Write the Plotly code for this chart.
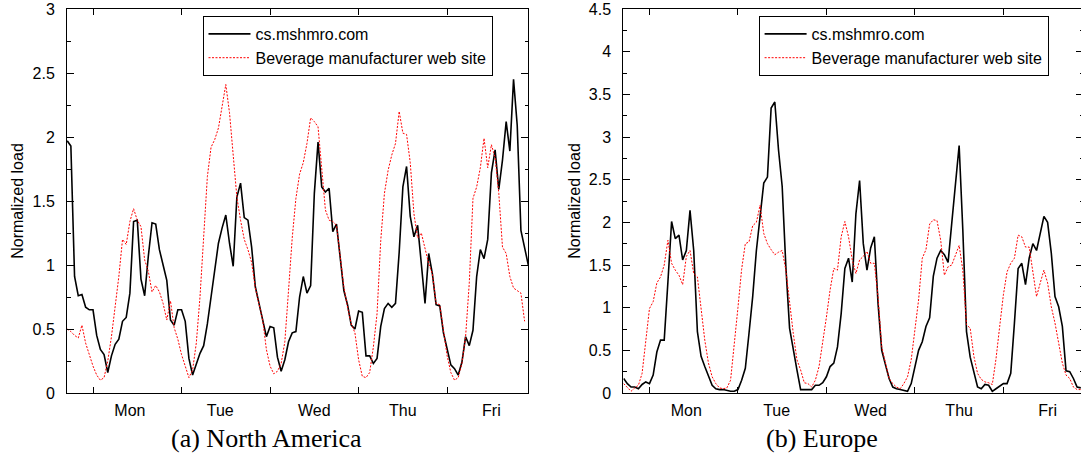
import plotly.graph_objects as go

# sample times in hours, 0 = start of Monday
hours_na = list(range(-7, 119))
hours_eu = list(range(-7, 118))
day_bounds = [0, 24, 48, 72, 96]
day_label_pos = [10, 34.5, 60, 84, 108]
day_labels = ["Mon", "Tue", "Wed", "Thu", "Fri"]

# (a) North America
na_mshmro = [
    1.97, 1.93, 0.91, 0.76, 0.77, 0.67, 0.65,
    0.65, 0.45, 0.34, 0.30, 0.16, 0.29, 0.38, 0.42, 0.56, 0.59, 0.78, 1.34,
    1.35, 0.89, 0.76, 1.07, 1.33, 1.32, 1.12, 1.00, 0.88, 0.57, 0.53, 0.65,
    0.65, 0.56, 0.27, 0.14, 0.23, 0.31, 0.37, 0.54, 0.75, 0.96, 1.17, 1.29,
    1.39, 1.17, 0.99, 1.53, 1.64, 1.37, 1.35, 1.14, 0.83, 0.70, 0.57, 0.44,
    0.52, 0.51, 0.28, 0.17, 0.26, 0.40, 0.47, 0.48, 0.75, 0.91, 0.78, 0.84,
    1.56, 1.96, 1.61, 1.57, 1.60, 1.26, 1.32, 1.04, 0.80, 0.69, 0.53, 0.50,
    0.64, 0.63, 0.29, 0.29, 0.23, 0.27, 0.52, 0.66, 0.70, 0.67, 0.70, 1.10,
    1.61, 1.77, 1.38, 1.22, 1.31, 1.01, 0.70, 1.09, 0.93, 0.69, 0.68, 0.47,
    0.34, 0.22, 0.19, 0.14, 0.24, 0.44, 0.37, 0.49, 0.91, 1.12, 1.05, 1.20,
    1.72, 1.90, 1.59, 1.82, 2.12, 1.89, 2.45, 2.09, 1.27, 1.12, 1.00,
]
na_beverage = [
    0.50, 0.48, 0.45, 0.43, 0.53, 0.39, 0.30,
    0.21, 0.14, 0.10, 0.12, 0.25, 0.44, 0.67, 0.91, 1.20, 1.16, 1.34, 1.44,
    1.35, 1.30, 1.04, 0.95, 0.79, 0.84, 0.79, 0.70, 0.57, 0.72, 0.51, 0.42,
    0.30, 0.20, 0.12, 0.18, 0.39, 0.75, 1.27, 1.69, 1.92, 1.98, 2.07, 2.24,
    2.41, 2.19, 1.85, 1.53, 1.35, 1.20, 1.12, 1.02, 0.82, 0.69, 0.57, 0.34,
    0.21, 0.15, 0.17, 0.23, 0.40, 0.80, 1.21, 1.52, 1.71, 1.80, 1.95, 2.15,
    2.12, 2.08, 1.74, 1.43, 1.35, 1.34, 1.31, 1.09, 0.83, 0.67, 0.54, 0.47,
    0.26, 0.13, 0.12, 0.16, 0.36, 0.62, 1.19, 1.56, 1.74, 1.86, 1.95, 2.20,
    2.03, 2.02, 1.80, 1.40, 1.21, 1.25, 1.14, 1.01, 0.93, 0.70, 0.69, 0.48,
    0.29, 0.16, 0.10, 0.12, 0.23, 0.44, 0.86, 1.52, 1.61, 1.76, 1.99, 1.76,
    1.94, 1.84, 1.56, 1.14, 1.09, 0.91, 0.82, 0.80, 0.78, 0.56,
]

# (b) Europe
eu_mshmro = [
    0.17, 0.11, 0.07, 0.07, 0.05, 0.10, 0.13,
    0.11, 0.21, 0.48, 0.62, 0.62, 1.30, 2.01, 1.81, 1.85, 1.56, 1.67, 2.14,
    1.67, 0.72, 0.43, 0.31, 0.19, 0.09, 0.05, 0.04, 0.04, 0.03, 0.02, 0.02,
    0.04, 0.15, 0.29, 0.70, 1.13, 1.67, 2.06, 2.46, 2.53, 3.34, 3.41, 2.85,
    2.42, 1.48, 0.76, 0.50, 0.27, 0.04, 0.04, 0.04, 0.04, 0.09, 0.09, 0.12,
    0.19, 0.31, 0.35, 0.54, 0.93, 1.46, 1.58, 1.30, 2.10, 2.49, 1.75, 1.44,
    1.70, 1.83, 1.05, 0.50, 0.35, 0.17, 0.07, 0.05, 0.04, 0.03, 0.02, 0.11,
    0.31, 0.50, 0.60, 0.78, 0.88, 1.37, 1.58, 1.67, 1.62, 1.53, 1.99, 2.46,
    2.90, 1.91, 0.72, 0.42, 0.23, 0.07, 0.05, 0.10, 0.09, 0.02, 0.05, 0.08,
    0.11, 0.11, 0.23, 0.82, 1.46, 1.52, 1.27, 1.58, 1.75, 1.67, 1.89, 2.07,
    2.00, 1.64, 1.13, 1.01, 0.78, 0.26, 0.25, 0.17, 0.07, 0.06,
]
eu_beverage = [
    0.11, 0.06, 0.02, 0.06, 0.09, 0.23, 0.62,
    0.99, 1.07, 1.29, 1.36, 1.50, 1.79, 1.52, 1.44, 1.38, 1.27, 1.60, 1.67,
    1.40, 1.36, 0.97, 0.62, 0.35, 0.19, 0.11, 0.06, 0.05, 0.06, 0.15, 0.55,
    1.00, 1.45, 1.75, 1.77, 1.96, 2.00, 2.20, 1.87, 1.75, 1.68, 1.62, 1.65,
    1.67, 1.44, 1.05, 0.70, 0.39, 0.27, 0.12, 0.11, 0.07, 0.15, 0.31, 0.58,
    0.89, 1.21, 1.46, 1.44, 1.83, 2.01, 1.83, 1.56, 1.40, 1.56, 1.60, 1.66,
    1.52, 1.52, 1.13, 0.54, 0.35, 0.17, 0.11, 0.07, 0.05, 0.11, 0.19, 0.39,
    0.74, 1.09, 1.58, 1.68, 1.98, 2.03, 2.02, 1.79, 1.38, 1.48, 1.50, 1.62,
    1.73, 1.44, 0.80, 0.76, 0.43, 0.23, 0.16, 0.13, 0.12, 0.10, 0.40, 0.78,
    1.15, 1.42, 1.52, 1.58, 1.85, 1.83, 1.71, 1.71, 1.40, 1.13, 1.29, 1.44,
    1.29, 1.01, 0.82, 0.60, 0.35, 0.21, 0.17, 0.07, 0.04, 0.04,
]

# figure is 2px wider than the window so the right frame of (b) falls just outside, as in the scan
W, H = 1083, 454
sans = "Liberation Sans, Arial, sans-serif"
serif = "Liberation Serif, Times New Roman, serif"


def px(x):  # page pixel -> paper x
    return x / W


def py(y):  # page pixel -> paper y
    return 1 - y / H


red_line = dict(color="red", width=1, dash="2px,1.5px")
black_line = dict(color="black", width=1.6)

fig = go.Figure()

# left panel
fig.add_trace(go.Scatter(x=hours_na, y=na_mshmro, mode="lines", name="cs.mshmro.com",
                         line=black_line, xaxis="x", yaxis="y", legend="legend"))
fig.add_trace(go.Scatter(x=hours_na[:len(na_beverage)], y=na_beverage, mode="lines",
                         name="Beverage manufacturer web site",
                         line=red_line, xaxis="x", yaxis="y", legend="legend"))
# right panel
fig.add_trace(go.Scatter(x=hours_eu, y=eu_mshmro, mode="lines", name="cs.mshmro.com",
                         line=black_line, xaxis="x2", yaxis="y2", legend="legend2"))
fig.add_trace(go.Scatter(x=hours_eu, y=eu_beverage, mode="lines",
                         name="Beverage manufacturer web site",
                         line=red_line, xaxis="x2", yaxis="y2", legend="legend2"))

ydom = [py(393), py(9)]


def xaxis_style(domain, rng, anchor):
    return dict(
        domain=domain, range=rng, anchor=anchor,
        tickmode="array", tickvals=day_label_pos, ticktext=day_labels, ticks="",
        minor=dict(tickmode="array", tickvals=day_bounds, ticks="inside", ticklen=6,
                   tickcolor="black", tickwidth=1),
        showline=True, linecolor="black", linewidth=1, mirror="ticks",
        showgrid=False, zeroline=False, automargin=False,
        tickfont=dict(family=sans, size=16, color="black"), ticklabelstandoff=3,
    )


def yaxis_style(rng, anchor, dtick):
    return dict(
        domain=ydom, range=rng, anchor=anchor, dtick=dtick, tick0=0,
        ticks="inside", ticklen=7, tickcolor="black", tickwidth=1,
        minor=dict(dtick=0.25, tick0=0, ticks="inside", ticklen=3.5, tickcolor="black"),
        showline=True, linecolor="black", linewidth=1, mirror="ticks",
        showgrid=False, zeroline=False, automargin=False, ticklabeloverflow="allow",
        tickfont=dict(family=sans, size=16, color="black"), ticklabelstandoff=8,
        title=dict(text="Normalized load", font=dict(family=sans, size=16, color="black"), standoff=4),
    )


legend_common = dict(
    xanchor="left", yanchor="top", bgcolor="white", bordercolor="black", borderwidth=1,
    font=dict(family=sans, size=16, color="black"), tracegroupgap=0, itemwidth=42,
)

fig.update_layout(
    width=W, height=H,
    margin=dict(l=0, r=0, t=0, b=0),
    paper_bgcolor="white", plot_bgcolor="white",
    xaxis=xaxis_style([px(67), px(528.3)], [-7.05, 118], "y"),
    yaxis=yaxis_style([0, 3], "x", 0.5),
    xaxis2=xaxis_style([px(623.3), 1.0], [-7.1, 117.6], "y2"),
    yaxis2=yaxis_style([0, 4.5], "x2", 0.5),
    legend=dict(x=px(202.5), y=py(16), **legend_common),
    legend2=dict(x=px(758.6), y=py(16), **legend_common),
    showlegend=True,
    annotations=[
        dict(text="(a) North America", x=px(266), y=py(438), xref="paper", yref="paper",
             xanchor="center", yanchor="middle", showarrow=False,
             font=dict(family=serif, size=26, color="black")),
        dict(text="(b) Europe", x=px(822), y=py(438), xref="paper", yref="paper",
             xanchor="center", yanchor="middle", showarrow=False,
             font=dict(family=serif, size=26, color="black")),
    ],
)

# drop the default 8px page margin so the figure sits at the window's top-left corner
fig.write_html("out.html", config={"displayModeBar": False},
               post_script="document.body.style.margin = '0';")
